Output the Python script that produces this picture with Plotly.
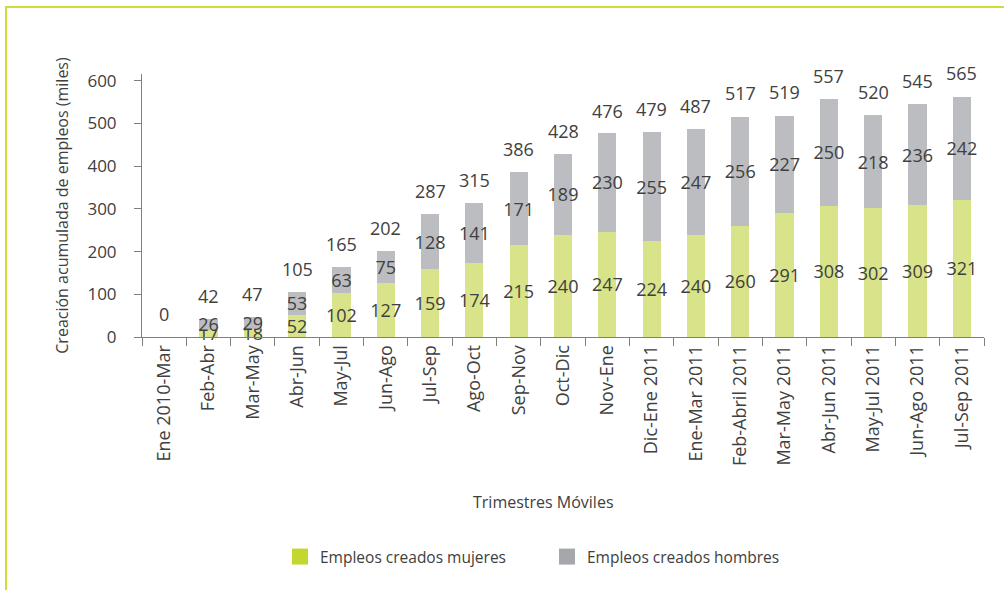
import plotly.graph_objects as go

categories = ["Ene 2010-Mar", "Feb-Abr", "Mar-May", "Abr-Jun", "May-Jul", "Jun-Ago", "Jul-Sep",
              "Ago-Oct", "Sep-Nov", "Oct-Dic", "Nov-Ene", "Dic-Ene 2011", "Ene-Mar 2011",
              "Feb-Abril 2011", "Mar-May 2011", "Abr-Jun 2011", "May-Jul 2011", "Jun-Ago 2011",
              "Jul-Sep 2011"]
mujeres = [0, 17, 18, 52, 102, 127, 159, 174, 215, 240, 247, 224, 240, 260, 291, 308, 302, 309, 321]
hombres = [0, 26, 29, 53, 63, 75, 128, 141, 171, 189, 230, 255, 247, 256, 227, 250, 218, 236, 242]
totales = [0, 42, 47, 105, 165, 202, 287, 315, 386, 428, 476, 479, 487, 517, 519, 557, 520, 545, 565]
y_ticks = [0, 100, 200, 300, 400, 500, 600]

FONT = "Open Sans"
TXT = "#404040"
W, H = 1004, 590
L, R, T, B = 142, 20, 74, 253

def px_x(p):
    return (p - L) / (W - L - R)

def px_y(p):
    return (H - B - p) / (H - T - B)

fig = go.Figure()
fig.add_trace(go.Bar(
    x=categories, y=mujeres, name="Empleos creados mujeres",
    marker_color="#d9e389", marker_line_width=0,
    text=["" if v == 0 else str(v) for v in mujeres], texttemplate="%{text}",
    textposition="inside", insidetextanchor="middle", textangle=0,
    constraintext="none", cliponaxis=False,
    textfont=dict(family=FONT, size=18, color=TXT), showlegend=False, hoverinfo="skip"))
fig.add_trace(go.Bar(
    x=categories, y=hombres, name="Empleos creados hombres",
    marker_color="#bcbdc1", marker_line_width=0,
    text=["" if v == 0 else str(v) for v in hombres], texttemplate="%{text}",
    textposition="inside", insidetextanchor="middle", textangle=0,
    constraintext="none", cliponaxis=False,
    textfont=dict(family=FONT, size=18, color=TXT), showlegend=False, hoverinfo="skip"))

# legend-only entries
fig.add_trace(go.Scatter(x=[None], y=[None], mode="markers", name="Empleos creados mujeres",
                         marker=dict(symbol="square", size=16, color="#c4d72f")))
fig.add_trace(go.Scatter(x=[None], y=[None], mode="markers", name="Empleos creados hombres",
                         marker=dict(symbol="square", size=16, color="#a6a7ab")))

for c, t in zip(categories, totales):
    fig.add_annotation(x=c, y=t, text=str(t), showarrow=False, yshift=23,
                       font=dict(family=FONT, size=18, color=TXT))

fig.add_annotation(xref="paper", yref="paper", x=px_x(543), y=px_y(515),
                   text="Trimestres Móviles", showarrow=False,
                   font=dict(family=FONT, size=16, color=TXT))

# decorative frame
fig.add_shape(type="line", xref="paper", yref="paper", x0=px_x(6), x1=px_x(1004),
              y0=px_y(7), y1=px_y(7), line=dict(color="#cddc39", width=2), layer="above")
fig.add_shape(type="line", xref="paper", yref="paper", x0=px_x(6), x1=px_x(6),
              y0=px_y(6), y1=px_y(590), line=dict(color="#cddc39", width=2), layer="above")

fig.update_layout(
    barmode="stack", bargap=0.59,
    width=W, height=H, margin=dict(l=L, r=R, t=T, b=B),
    plot_bgcolor="white", paper_bgcolor="white",
    font=dict(family=FONT, size=16, color=TXT),
    uniformtext=dict(minsize=18, mode="show"),
    legend=dict(orientation="h", x=px_x(280), y=px_y(557), xanchor="left", yanchor="middle",
                traceorder="normal",
                font=dict(family=FONT, size=15.5, color=TXT), entrywidth=222,
                itemsizing="trace"),
    xaxis=dict(type="category", tickangle=-90, showline=True, linecolor="#7f7f7f",
               ticks="outside", tickson="boundaries", ticklen=8, tickcolor="#7f7f7f",
               tickfont=dict(family=FONT, size=18, color=TXT), showgrid=False),
    yaxis=dict(range=[0, 616], tickvals=y_ticks, showline=True, linecolor="#7f7f7f",
               ticks="outside", ticklen=7, tickcolor="#7f7f7f", showgrid=False, zeroline=False,
               ticklabelstandoff=14,
               tickfont=dict(family=FONT, size=17, color=TXT),
               title=dict(text="Creación acumulada de empleos (miles)",
                          font=dict(family=FONT, size=16, color=TXT), standoff=14)),
)

fig.write_html("out.html", config={"displayModeBar": False},
               post_script="document.body.style.margin='0';")
